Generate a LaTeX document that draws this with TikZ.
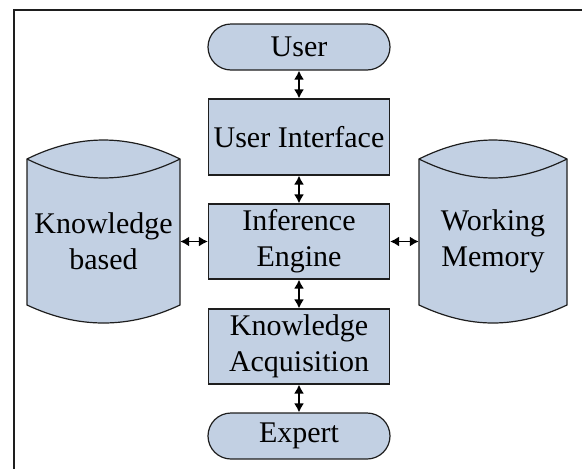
\documentclass[tikz,border=0pt]{standalone}
\usepackage{fontspec}
\setmainfont{Liberation Serif}
\usetikzlibrary{arrows.meta, shapes.misc}

\definecolor{boxfill}{RGB}{194,208,227}
\definecolor{edgeline}{RGB}{30,30,30}

% cylinder outline between a left and a right x
\newcommand{\drum}[2]{%
    \filldraw [drumline]
        (#1,159) .. controls (#1+51,133.7) and (#2-51,133.7) .. (#2,159)
        -- (#2,305) .. controls (#2-51,329) and (#1+51,329) .. (#1,305)
        -- cycle;
    \draw [drumline]
        (#1,159) .. controls (#1+51,184.3) and (#2-51,184.3) .. (#2,159);
}

\begin{document}
\begin{tikzpicture}[x=1pt, y=-1pt,
    every node/.style = {font=\fontsize{30}{36}\selectfont, align=center},
    block/.style = {rectangle, draw=edgeline, fill=boxfill, line width=1.2pt,
        minimum width=181pt, minimum height=75pt, inner sep=0pt},
    terminal/.style = {rounded rectangle, draw=edgeline, fill=boxfill,
        line width=1.2pt, minimum width=182pt, minimum height=46pt, inner sep=0pt},
    drumline/.style = {draw=edgeline, fill=boxfill, line width=1.2pt},
    drumtext/.style = {inner sep=0pt, minimum height=127pt},
    link/.style = {{Latex[length=9pt,width=10pt]}-{Latex[length=9pt,width=10pt]},
        line width=1.6pt, draw=black}]
    \useasboundingbox (0,0) rectangle (582,469);
    % \draw [help lines] (0,0) grid (582,469);
    \draw [line width=1.3pt, edgeline] (14,469) -- (14,10) -- (582,10);

    % stores on both sides
    \drum{27}{180}
    \drum{419}{567}
    \node (kb) [drumtext, minimum width=153pt] at (103.5,241.5) {Knowledge\\based};
    \node (wm) [drumtext, minimum width=148pt] at (493,241.5) {Working\\Memory};

    % middle column
    \node (user) [terminal] at (299,47) {User};
    \node (ui) [block, minimum height=76pt] at (299,137) {User Interface};
    \node (ie) [block] at (299,241.5) {Inference\\Engine};
    \node (ka) [block] at (299,346.5) {Knowledge\\Acquisition};
    \node (expert) [terminal] at (299,436) {Expert};

    \draw [link] (user) -- (ui);
    \draw [link] (ui) -- (ie);
    \draw [link] (ie) -- (ka);
    \draw [link] (ka) -- (expert);
    \draw [link] (kb.east) -- (ie.west);
    \draw [link] (ie.east) -- (wm.west);
\end{tikzpicture}
\end{document}
